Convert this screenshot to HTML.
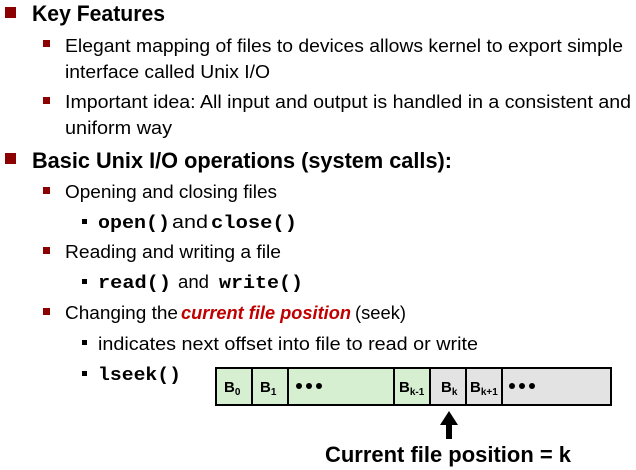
<!DOCTYPE html>
<html><head><style>html,body{margin:0;padding:0;background:#fff;}svg{display:block}</style></head><body>
<svg width="636" height="470" xmlns="http://www.w3.org/2000/svg" font-family="Liberation Sans, sans-serif">
<g fill="#8b0000">
<rect x="5" y="7" width="11" height="11"/>
<rect x="5" y="153" width="11" height="11"/>
<rect x="43" y="40" width="7" height="7"/>
<rect x="43" y="97" width="7" height="7"/>
<rect x="43" y="187" width="7" height="7"/>
<rect x="43" y="247" width="7" height="7"/>
<rect x="43" y="308" width="7" height="7"/>
</g>
<g fill="#000">
<rect x="82" y="219" width="5" height="5"/>
<rect x="82" y="279" width="5" height="5"/>
<rect x="82" y="340" width="5" height="5"/>
<rect x="82" y="371" width="5" height="5"/>
</g>
<g font-size="22" font-weight="bold" fill="#000">
<text x="32" y="21" textLength="133" lengthAdjust="spacingAndGlyphs">Key Features</text>
<text x="32" y="168" textLength="420" lengthAdjust="spacingAndGlyphs">Basic Unix I/O operations (system calls):</text>
</g>
<g font-size="18" fill="#000">
<text x="65" y="52" textLength="558" lengthAdjust="spacingAndGlyphs">Elegant mapping of files to devices allows kernel to export simple</text>
<text x="65" y="78" textLength="205" lengthAdjust="spacingAndGlyphs">interface called Unix I/O</text>
<text x="65" y="108" textLength="566" lengthAdjust="spacingAndGlyphs">Important idea: All input and output is handled in a consistent and</text>
<text x="65" y="134" textLength="107" lengthAdjust="spacingAndGlyphs">uniform way</text>
<text x="65" y="198" textLength="212" lengthAdjust="spacingAndGlyphs">Opening and closing files</text>
<text x="172" y="228" textLength="36" lengthAdjust="spacingAndGlyphs">and</text>
<text x="65" y="258" textLength="216" lengthAdjust="spacingAndGlyphs">Reading and writing a file</text>
<text x="178" y="288" textLength="31" lengthAdjust="spacingAndGlyphs">and</text>
<text x="65" y="319" textLength="113" lengthAdjust="spacingAndGlyphs">Changing the</text>
<text x="181" y="319" textLength="170" lengthAdjust="spacingAndGlyphs" fill="#c00000" font-weight="bold" font-style="italic">current file position</text>
<text x="355" y="319" textLength="51" lengthAdjust="spacingAndGlyphs">(seek)</text>
<text x="98" y="350" textLength="380" lengthAdjust="spacingAndGlyphs">indicates next offset into file to read or write</text>
</g>
<g font-family="Liberation Mono, monospace" font-weight="bold" font-size="18" fill="#000">
<text x="98" y="228" textLength="72" lengthAdjust="spacingAndGlyphs">open()</text>
<text x="211" y="228" textLength="86" lengthAdjust="spacingAndGlyphs">close()</text>
<text x="98" y="288" textLength="73" lengthAdjust="spacingAndGlyphs">read()</text>
<text x="219" y="288" textLength="84" lengthAdjust="spacingAndGlyphs">write()</text>
<text x="98" y="380" textLength="83" lengthAdjust="spacingAndGlyphs">lseek()</text>
</g>
<g stroke="#000" stroke-width="2">
<rect x="216" y="368" width="178" height="37" fill="#d5efd0"/>
<rect x="394" y="368" width="36" height="37" fill="#d5efd0"/>
<rect x="430" y="368" width="181" height="37" fill="#e3e3e3"/>
<line x1="252" y1="368" x2="252" y2="405"/>
<line x1="288" y1="368" x2="288" y2="405"/>
<line x1="466" y1="368" x2="466" y2="405"/>
<line x1="502" y1="368" x2="502" y2="405"/>
</g>
<g fill="#000">
<circle cx="299" cy="386" r="3"/><circle cx="309" cy="386" r="3"/><circle cx="319" cy="386" r="3"/>
<circle cx="512" cy="386" r="3"/><circle cx="522" cy="386" r="3"/><circle cx="532" cy="386" r="3"/>
</g>
<g font-weight="bold" font-size="15" fill="#000">
<text x="224" y="392">B<tspan font-size="10" dy="3">0</tspan></text>
<text x="260" y="392">B<tspan font-size="10" dy="3">1</tspan></text>
<text x="399" y="392">B<tspan font-size="10" dy="3">k-1</tspan></text>
<text x="441" y="392">B<tspan font-size="10" dy="3">k</tspan></text>
<text x="470" y="392">B<tspan font-size="10" dy="3">k+1</tspan></text>
</g>
<rect x="446" y="423" width="6" height="16" fill="#000"/>
<polygon points="449,411 440,425 458,425" fill="#000"/>
<text x="325" y="462" font-size="22" font-weight="bold" textLength="246" lengthAdjust="spacingAndGlyphs">Current file position = k</text>
</svg>
</body></html>
